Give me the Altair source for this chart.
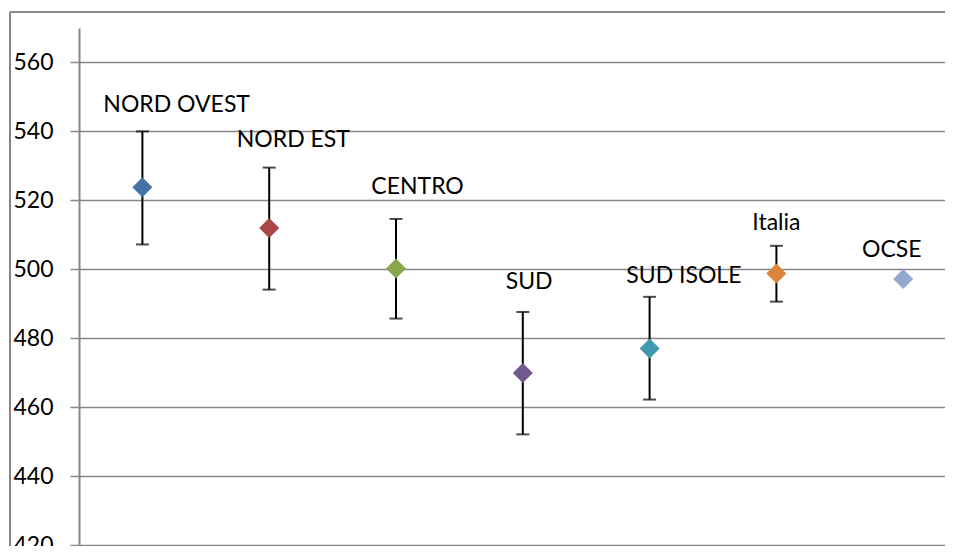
import altair as alt
import pandas as pd

# ---- data ----
categories = ["NORD OVEST", "NORD EST", "CENTRO", "SUD", "SUD ISOLE", "Italia", "OCSE"]
means = [523.8, 512.0, 500.2, 469.9, 477.0, 498.8, 497.2]
ci_low = [507.2, 494.1, 485.7, 452.1, 462.2, 490.6, None]
ci_high = [540.0, 529.5, 514.6, 487.6, 492.0, 506.8, None]
colors = ["#4572A7", "#AA4643", "#89A54E", "#71588F", "#4198AF", "#DB843D", "#93A9CF"]
# data-label anchors (category units, value units)
label_x = [0.77, 1.69, 2.67, 3.55, 4.77, 5.50, 6.41]
label_y = [545.5, 535.4, 521.9, 494.2, 495.9, 511.3, 503.5]
y_ticks = [420, 440, 460, 480, 500, 520, 540, 560]

df = pd.DataFrame({
    "cat": categories,
    "pos": [i + 0.5 for i in range(len(categories))],
    "mean": means,
    "low": ci_low,
    "high": ci_high,
    "lx": label_x,
    "ly": label_y,
})
df_err = df.dropna(subset=["low", "high"])

W, H = 866, 517
STEP = 126.8
FONT = "Lato"
GRAY = "#878787"

xs = alt.Scale(domain=[0, W / STEP], nice=False, zero=False)
ys = alt.Scale(domain=[420, 570], nice=False, zero=False)

base = alt.Chart(df)
one = alt.Chart(pd.DataFrame({"a": [0]}))

# outer chart-area frame (top and left edges; the others lie outside the picture)
frame_top = one.mark_rule(color=GRAY, strokeWidth=2).encode(
    x=alt.value(-69), x2=alt.value(W), y=alt.value(-16)
)
frame_left = one.mark_rule(color=GRAY, strokeWidth=2).encode(
    x=alt.value(-69), y=alt.value(-16), y2=alt.value(H + 20)
)

axis_layer = base.mark_point(opacity=0).encode(
    x=alt.X("pos:Q", scale=xs, axis=None),
    y=alt.Y(
        "mean:Q", scale=ys,
        axis=alt.Axis(
            values=y_ticks, title=None, grid=True, gridColor=GRAY, gridWidth=1.5,
            domainColor=GRAY, domainWidth=2, tickColor=GRAY, tickSize=9, tickWidth=1.5,
            labelFont=FONT, labelFontSize=23, labelColor="black", labelPadding=17,
        ),
    ),
)

rules = alt.Chart(df_err).mark_rule(color="black", strokeWidth=2).encode(
    x=alt.X("pos:Q", scale=xs), y=alt.Y("low:Q", scale=ys), y2="high:Q"
)
cap_lo = alt.Chart(df_err).mark_tick(color="black", orient="horizontal", size=13, thickness=2).encode(
    x=alt.X("pos:Q", scale=xs), y=alt.Y("low:Q", scale=ys)
)
cap_hi = alt.Chart(df_err).mark_tick(color="black", orient="horizontal", size=13, thickness=2).encode(
    x=alt.X("pos:Q", scale=xs), y=alt.Y("high:Q", scale=ys)
)

points = base.mark_point(shape="diamond", filled=True, size=400, opacity=1).encode(
    x=alt.X("pos:Q", scale=xs),
    y=alt.Y("mean:Q", scale=ys),
    color=alt.Color("cat:N", scale=alt.Scale(domain=categories, range=colors), legend=None),
)

labels = base.mark_text(font=FONT, fontSize=23, color="black", align="center", baseline="alphabetic").encode(
    x=alt.X("lx:Q", scale=xs), y=alt.Y("ly:Q", scale=ys), text="cat:N"
)

chart = alt.layer(frame_top, frame_left, axis_layer, rules, cap_lo, cap_hi, points, labels).properties(
    width=W, height=H,
    autosize=alt.AutoSizeParams(type="none"),
    padding={"left": 71, "top": 20, "right": 0, "bottom": 1},
).configure_view(strokeWidth=0, stroke="transparent")

chart.save("out.html", embed_options={"renderer": "svg", "actions": False})
